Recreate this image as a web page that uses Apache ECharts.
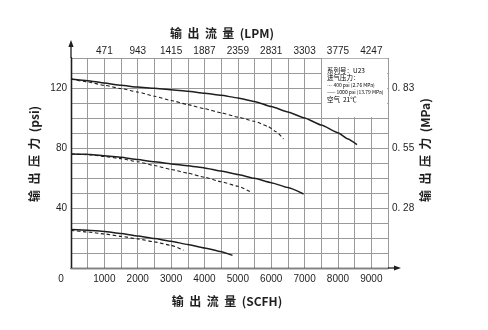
<!DOCTYPE html>
<html>
<head>
<meta charset="utf-8">
<script src="https://cdn.jsdelivr.net/npm/echarts@6/dist/echarts.min.js"></script>
<style>
html,body{margin:0;padding:0;background:#fff;}
#c{width:488px;height:330px;}
</style>
</head>
<body>
<div id="c"></div>
<script>
// ---- data (flow SCFH, outlet pressure psi) ----
const highSolid = [[0,126],[500,124.9],[1000,123.3],[1500,121.8],[2000,120.6],[2500,119.8],[3000,118.9],[3500,117.8],[4000,116.5],[4500,115.1],[5000,113.4],[5500,111],[6000,107.6],[6500,104],[7000,100],[7500,95.3],[8000,90.2],[8300,86],[8570,82.2]];
const highDashed = [[0,126],[500,124],[1000,121.8],[1500,119.6],[2000,117.3],[2500,114.5],[3000,111.7],[3500,108.9],[4000,106.2],[4500,103.4],[5000,100.6],[5500,97.8],[5900,94.4],[6150,90.8],[6370,86]];
const midSolid = [[0,76],[500,75.8],[1000,74.9],[1500,73.8],[2000,72.3],[2500,70.8],[3000,69.4],[3500,68.2],[4000,66.7],[4500,64.6],[5000,62.3],[5500,59.8],[6000,56.9],[6500,53.6],[6970,49.3]];
const midDashed = [[0,76],[500,75.6],[1000,74.4],[1500,72.9],[2000,70.8],[2500,68.3],[3000,65.7],[3500,63.2],[4000,60.5],[4500,57.5],[5000,54.5],[5420,50.3]];
const lowSolid = [[0,25.6],[500,25.2],[1000,24.4],[1500,23],[2000,21.3],[2500,19.6],[3000,17.8],[3500,15.7],[4000,13.4],[4500,10.9],[4840,8.4]];
const lowDashed = [[0,25.1],[500,24],[1000,22.7],[1500,21.1],[2000,19.4],[2500,17.4],[3000,15.1],[3370,11.8]];

const scfhLabels = ['1000','2000','3000','4000','5000','6000','7000','8000','9000'];
const lpmLabels = ['471','943','1415','1887','2359','2831','3303','3775','4247'];
const psiLabels = {40:'40', 80:'80', 120:'120'};
const mpaLabels = {40:'0. 28', 80:'0. 55', 120:'0. 83'};
const legendLines = ['系列号：U23','进气压力：','--- 400 psi (2.76 MPa)','—— 1000 psi (13.79 MPa)','空气  21℃'];

const FONT = '"Liberation Sans", Arial, sans-serif';
const CJK = '"Noto Sans CJK SC", "Liberation Sans", sans-serif';
const gridColor = '#9a9a9a';
const ink = '#1e1e1e';

const chart = echarts.init(document.getElementById('c'), null, {renderer:'canvas'});

function mkLine(data, dashed){
  return {
    type:'line', data: data, symbol:'none', smooth:0.15, smoothMonotone:'x', xAxisIndex:0, yAxisIndex:0,
    lineStyle:{color:ink, width: dashed?1.1:1.5, type: dashed?[3.5,2.5]:'solid'},
    z:5, silent:true
  };
}

const option = {
  animation:false,
  backgroundColor:'#fff',
  grid:{left:71, right:100, top:58, bottom:62, containLabel:false},
  xAxis:[
    {type:'value', position:'bottom', min:0, max:9500, interval:500,
     axisLine:{show:true, lineStyle:{color:ink, width:1.3}},
     axisTick:{show:false},
     splitLine:{show:true, lineStyle:{color:gridColor, width:1}},
     axisLabel:{margin:6, fontSize:10, color:ink, fontFamily:FONT,
       formatter:function(v){
         if(v===0) return '{z|0}';
         if(v%1000===0 && v/1000<=scfhLabels.length) return scfhLabels[v/1000-1];
         return '';
       },
       rich:{z:{fontSize:10, color:ink, fontFamily:FONT, padding:[0,20,0,0]}}
     }},
    {type:'value', position:'top', min:0, max:9500, interval:500,
     axisLine:{show:true, lineStyle:{color:'#808080', width:1}},
     axisTick:{show:false}, splitLine:{show:false},
     axisLabel:{margin:2, fontSize:10, color:ink, fontFamily:FONT,
       formatter:function(v){
         if(v>0 && v%1000===0 && v/1000<=lpmLabels.length) return lpmLabels[v/1000-1];
         return '';
       }}}
  ],
  yAxis:[
    {type:'value', position:'left', min:0, max:140, interval:10,
     axisLine:{show:true, lineStyle:{color:ink, width:1.3}},
     axisTick:{show:false},
     splitLine:{show:true, lineStyle:{color:gridColor, width:1}},
     axisLabel:{margin:4, fontSize:10, color:ink, fontFamily:FONT,
       formatter:function(v){ return psiLabels[v] || ''; }}},
    {type:'value', position:'right', min:0, max:140, interval:10,
     axisLine:{show:true, lineStyle:{color:ink, width:1.3}},
     axisTick:{show:false}, splitLine:{show:false},
     axisLabel:{margin:4, fontSize:10, color:ink, fontFamily:FONT,
       formatter:function(v){ return mpaLabels[v] || ''; }}}
  ],
  series:[
    mkLine(highSolid,false), mkLine(highDashed,true),
    mkLine(midSolid,false), mkLine(midDashed,true),
    mkLine(lowSolid,false), mkLine(lowDashed,true)
  ]
};
chart.setOption(option);

// decorations positioned from the axes
const p00 = chart.convertToPixel({gridIndex:0},[0,0]);
const pTR = chart.convertToPixel({gridIndex:0},[9500,140]);
const pBox = chart.convertToPixel({gridIndex:0},[7500,100]);
const x0 = p00[0], y0 = p00[1], x1 = pTR[0], y1 = pTR[1];

const boxX = pBox[0] + 0.8, boxY = y1 + 0.8;
const boxW = x1 - boxX - 0.8, boxH = pBox[1] - boxY - 0.8;

function txt(t, x, y, font, align, rot, color){
  const g = {type:'text', z:60, x:x, y:y,
    style:{text:t, x:0, y:0, align:align, verticalAlign:'middle', textAlign:align, textVerticalAlign:'middle', font:font, fill:color||ink}};
  if(rot) g.rotation = rot;
  return g;
}

const legendY = [70.6, 78, 85.4, 92.3, 99.6];
const legendFont = ['6.5px ', '6.5px ', '5px ', '5px ', '6.5px '];
const graphics = [
  {type:'rect', z:50, shape:{x:boxX, y:boxY, width:boxW, height:boxH}, style:{fill:'#fff'}},
  // axis arrows
  {type:'line', z:60, shape:{x1:x0, y1:y1, x2:x0, y2:y1-14}, style:{stroke:ink, lineWidth:1.3}},
  {type:'polygon', z:60, shape:{points:[[x0,y1-18],[x0-2.6,y1-11],[x0+2.6,y1-11]]}, style:{fill:ink}},
  {type:'line', z:60, shape:{x1:x1, y1:y0, x2:x1+9, y2:y0}, style:{stroke:ink, lineWidth:1.3}},
  {type:'polygon', z:60, shape:{points:[[x1+13,y0],[x1+6,y0-2.6],[x1+6,y0+2.6]]}, style:{fill:ink}},
  // titles
  txt('输  出  流  量  (LPM)', 222, 33, 'bold 12px '+CJK, 'center'),
  txt('输  出  流  量  (SCFH)', 227, 301, 'bold 12px '+CJK, 'center'),
  txt('输  出  压  力  (psi)', 34, 202, 'bold 12px '+CJK, 'left', Math.PI/2),
  txt('输  出  压  力  (MPa)', 425, 202, 'bold 12px '+CJK, 'left', Math.PI/2)
];
legendLines.forEach(function(t,i){
  graphics.push(txt(t, boxX+5, legendY[i], legendFont[i]+CJK, 'left', 0, '#000'));
});
chart.setOption({graphic:graphics});
</script>
</body>
</html>
